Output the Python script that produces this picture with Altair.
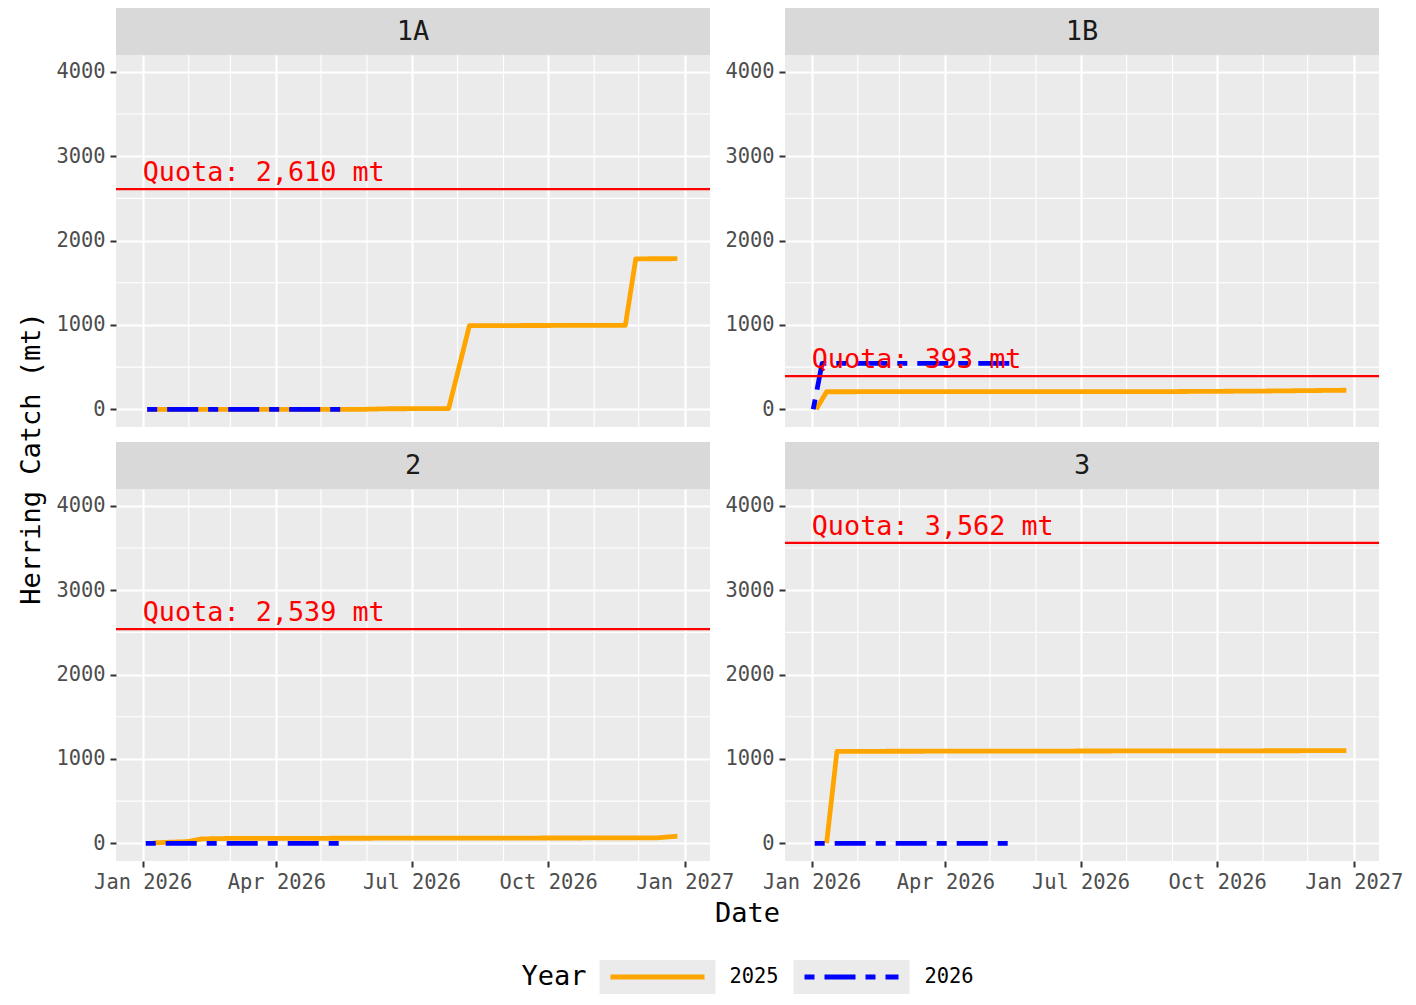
import altair as alt
import pandas as pd

MONO = "DejaVu Sans Mono"

AREAS = ["1A", "1B", "2", "3"]
QUOTAS = [2610, 393, 2539, 3562]
YEARS = ["2025", "2026"]
YEAR_COLORS = ["#FFA500", "#0000FF"]
YEAR_DASHES = [[1, 0], [10, 10, 31, 10]]
Y_TITLE = "Herring Catch (mt)"
X_TITLE = "Date"
LEGEND_TITLE = "Year"

# cumulative catch, both years drawn on a common 2026 calendar
C1A_2025_DATES = ["2026-01-04", "2026-05-31", "2026-06-14", "2026-07-26", "2026-08-09",
                  "2026-11-22", "2026-11-29", "2026-12-27"]
C1A_2025_CATCH = [0, 0, 6, 8, 992, 995, 1784, 1785]
C1A_2026_DATES = ["2026-01-04", "2026-05-15"]
C1A_2026_CATCH = [0, 0]

C1B_2025_DATES = ["2026-01-04", "2026-01-11", "2026-08-30", "2026-11-01", "2026-12-27"]
C1B_2025_CATCH = [0, 208, 210, 216, 226]
C1B_2026_DATES = ["2026-01-02", "2026-01-08", "2026-05-15"]
C1B_2026_CATCH = [0, 545, 545]

C2_2025_DATES = ["2026-01-08", "2026-01-31", "2026-02-10", "2026-03-01", "2026-12-13", "2026-12-27"]
C2_2025_CATCH = [5, 20, 52, 58, 64, 84]
C2_2026_DATES = ["2026-01-03", "2026-05-14"]
C2_2026_CATCH = [0, 0]

C3_2025_DATES = ["2026-01-11", "2026-01-18", "2026-12-27"]
C3_2025_CATCH = [0, 1090, 1098]
C3_2026_DATES = ["2026-01-03", "2026-05-14"]
C3_2026_CATCH = [0, 0]

SERIES = [
    ("1A", "2025", C1A_2025_DATES, C1A_2025_CATCH),
    ("1A", "2026", C1A_2026_DATES, C1A_2026_CATCH),
    ("1B", "2025", C1B_2025_DATES, C1B_2025_CATCH),
    ("1B", "2026", C1B_2026_DATES, C1B_2026_CATCH),
    ("2", "2025", C2_2025_DATES, C2_2025_CATCH),
    ("2", "2026", C2_2026_DATES, C2_2026_CATCH),
    ("3", "2025", C3_2025_DATES, C3_2025_CATCH),
    ("3", "2026", C3_2026_DATES, C3_2026_CATCH),
]

X_DOMAIN = ["2025-12-14", "2027-01-18"]
X_TICKS = ["2026-01-01", "2026-04-01", "2026-07-01", "2026-10-01", "2027-01-01"]
X_MINOR = ["2026-02-01", "2026-03-01", "2026-05-01", "2026-06-01",
           "2026-08-01", "2026-09-01", "2026-11-01", "2026-12-01"]
Y_DOMAIN = [-210, 4200]
Y_TICKS = [0, 1000, 2000, 3000, 4000]
Y_MINOR = [500, 1500, 2500, 3500]
QUOTA_LABEL_DATE = "2026-01-01"

rows = []
for area, year, dates, vals in SERIES:
    for d, v in zip(dates, vals):
        rows.append({"area": area, "year": year, "date": d, "catch": v})
df = pd.DataFrame(rows)


def dt(s):
    y, m, d = (int(p) for p in s.split("-"))
    return alt.DateTime(year=y, month=m, date=d, utc=True)


XS = alt.Scale(type="utc", domain=[dt(s) for s in X_DOMAIN], nice=False)
YS = alt.Scale(domain=Y_DOMAIN, nice=False, zero=False)
COLOR_SCALE = alt.Scale(domain=YEARS, range=YEAR_COLORS)
DASH_SCALE = alt.Scale(domain=YEARS, range=YEAR_DASHES)

PW, PH = 594, 372
GAP = 75
STRIP_H = 47
ROW_GAP = 14
LABEL_FS = 20.4
TITLE_FS = 27

# layout of the bottom titles / legend, relative to the lower-left panel
MID = (2 * PW + GAP) / 2
DATE_Y = PH + 53
LEG_Y = PH + 116
LEG_H = 34
LEG_TITLE_X = MID - 226
LEG_KEY_X = [MID - 148, MID + 46]
LEG_KEY_W = 116
LEG_LABEL_X = [MID - 18, MID + 177]


def xenc(bottom):
    return alt.X("date:T", scale=XS, title=None,
                 axis=alt.Axis(values=[dt(s) for s in X_TICKS], format="%b %Y",
                               labels=bottom, ticks=bottom, grid=True))


def yenc():
    return alt.Y("catch:Q", scale=YS, title=None,
                 axis=alt.Axis(values=Y_TICKS, format="d", grid=True))


def bottom_titles():
    layers = []
    tdf = pd.DataFrame({"t": [X_TITLE]})
    layers.append(alt.Chart(tdf).mark_text(
        fontSize=TITLE_FS, font=MONO, color="black", baseline="middle", align="center"
    ).encode(text="t:N", x=alt.value(MID), y=alt.value(DATE_Y)))
    ldf = pd.DataFrame({"t": [LEGEND_TITLE]})
    layers.append(alt.Chart(ldf).mark_text(
        fontSize=TITLE_FS, font=MONO, color="black", baseline="middle", align="left"
    ).encode(text="t:N", x=alt.value(LEG_TITLE_X), y=alt.value(LEG_Y)))
    for k, yr in enumerate(YEARS):
        ydf = pd.DataFrame({"year": [yr]})
        layers.append(alt.Chart(ydf).mark_rect(color="#EBEBEB").encode(
            x=alt.value(LEG_KEY_X[k]), x2=alt.value(LEG_KEY_X[k] + LEG_KEY_W),
            y=alt.value(LEG_Y - LEG_H / 2), y2=alt.value(LEG_Y + LEG_H / 2)))
        layers.append(alt.Chart(ydf).mark_rule(strokeWidth=4.8, strokeCap="butt").encode(
            x=alt.value(LEG_KEY_X[k] + 11), x2=alt.value(LEG_KEY_X[k] + 105),
            y=alt.value(LEG_Y),
            color=alt.Color("year:N", scale=COLOR_SCALE, legend=None),
            strokeDash=alt.StrokeDash("year:N", scale=DASH_SCALE, legend=None)))
        layers.append(alt.Chart(ydf).mark_text(
            fontSize=LABEL_FS, font=MONO, color="black", baseline="middle", align="left"
        ).encode(text="year:N", x=alt.value(LEG_LABEL_X[k]), y=alt.value(LEG_Y)))
    return layers


def panel(i, bottom):
    area = AREAS[i]
    quota = QUOTAS[i]
    X = xenc(bottom)
    Y = yenc()
    minor_x = alt.Chart(pd.DataFrame({"date": X_MINOR})).mark_rule(
        color="white", strokeWidth=1.1).encode(x=X)
    minor_y = alt.Chart(pd.DataFrame({"catch": Y_MINOR})).mark_rule(
        color="white", strokeWidth=1.1).encode(y=Y)
    lines = []
    for yr in YEARS:
        sub = df[(df.area == area) & (df.year == yr)]
        lines.append(
            alt.Chart(sub).mark_line(strokeWidth=4.8, strokeCap="butt", strokeJoin="round").encode(
                x=X, y=Y,
                color=alt.Color("year:N", scale=COLOR_SCALE, legend=None),
                strokeDash=alt.StrokeDash("year:N", scale=DASH_SCALE, legend=None),
            )
        )
    qdf = pd.DataFrame({"date": [QUOTA_LABEL_DATE], "catch": [quota],
                        "label": [f"Quota: {quota:,} mt"]})
    qrule = alt.Chart(qdf).mark_rule(color="#FF0000", strokeWidth=2.2).encode(y=Y)
    qtext = alt.Chart(qdf).mark_text(
        align="left", baseline="alphabetic", dy=-8, color="#FF0000",
        fontSize=26.8, font=MONO).encode(x=X, y=Y, text="label:N")
    sdf = pd.DataFrame({"area": [area]})
    strip = alt.Chart(sdf).mark_rect(color="#D9D9D9").encode(
        x=alt.value(0), x2=alt.value("width"),
        y=alt.value(-STRIP_H), y2=alt.value(0))
    stext = alt.Chart(sdf).mark_text(
        fontSize=TITLE_FS, font=MONO, color="#1A1A1A", baseline="middle").encode(
        text="area:N", y=alt.value(-STRIP_H / 2))
    extra = bottom_titles() if i == 2 else []
    return alt.layer(minor_x, minor_y, *lines, qrule, qtext, strip, stext, *extra).properties(
        width=PW, height=PH,
        view=alt.ViewBackground(fill="#EBEBEB", stroke=None))


row1 = alt.hconcat(panel(0, False), panel(1, False), spacing=GAP, bounds="flush")
row2 = alt.hconcat(panel(2, True), panel(3, True), spacing=GAP, bounds="flush")
grid = alt.vconcat(row1, row2, spacing=ROW_GAP)

# the title column is aligned with the top of the first plot area (below the strip)
YT_H = 2 * PH + STRIP_H + ROW_GAP
ytitle = alt.Chart(pd.DataFrame({"t": [Y_TITLE]})).mark_text(
    angle=270, fontSize=TITLE_FS, font=MONO, color="black", baseline="middle", align="center"
).encode(text="t:N", x=alt.value(24), y=alt.value(YT_H / 2 + 1)).properties(width=42, height=YT_H)

chart = alt.hconcat(ytitle, grid, spacing=5).properties(
    padding=0, background="white"
).configure(font=MONO).configure_view(stroke=None).configure_axis(
    gridColor="white", gridWidth=2.2, domain=False,
    tickColor="#333333", tickSize=6, tickWidth=2,
    labelColor="#4D4D4D", labelFontSize=LABEL_FS, labelFont=MONO, labelPadding=5,
    labelFlush=False, labelOverlap=False,
)

chart.save("out.html", embed_options={"renderer": "svg", "actions": False})
